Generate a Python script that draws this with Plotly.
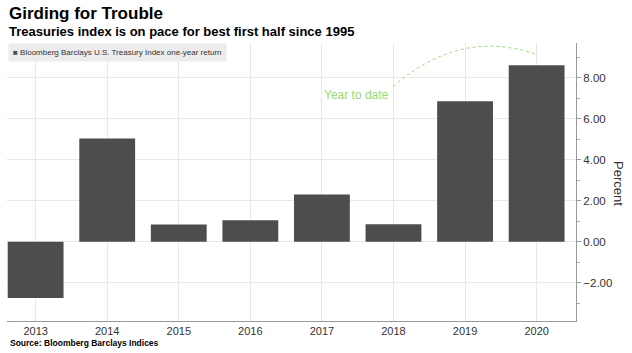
import plotly.graph_objects as go

# ---- data ----
years = ["2013", "2014", "2015", "2016", "2017", "2018", "2019", "2020"]
returns = [-2.75, 5.04, 0.84, 1.05, 2.31, 0.85, 6.86, 8.61]
series_name = "Bloomberg Barclays U.S. Treasury Index one-year return"
y_ticks = [-2, 0, 2, 4, 6, 8]
title = "Girding for Trouble"
subtitle = "Treasuries index is on pace for best first half since 1995"
source = "Source: Bloomberg Barclays Indices"
ytd_label = "Year to date"
y_title = "Percent"

# ---- layout geometry ----
WIDTH, HEIGHT = 632, 353
L, R, T, B = 7, 56, 43, 32
PW = WIDTH - L - R
PH = HEIGHT - T - B


def px(x):
    return (x - L) / PW


def py(y):
    return (HEIGHT - B - y) / PH


SANS = "Liberation Sans, Arial, sans-serif"
GREEN = "#9ad96e"
BAR = "#4d4d4d"

fig = go.Figure()
fig.add_trace(go.Bar(
    x=years, y=returns, name=series_name,
    marker=dict(color=BAR, line=dict(width=0)),
    width=0.78, showlegend=False,
))

fig.update_layout(
    width=WIDTH, height=HEIGHT,
    margin=dict(l=L, r=R, t=T, b=B, pad=0),
    paper_bgcolor="white", plot_bgcolor="white",
    xaxis=dict(
        type="category", range=[-0.4, 7.55],
        showgrid=True, gridcolor="#e8e8e8", gridwidth=1,
        showline=True, linecolor="#999999", linewidth=1,
        ticks="", ticklen=0,
        tickfont=dict(family=SANS, size=11, color="#333333"),
        fixedrange=True,
    ),
    yaxis=dict(
        side="right", range=[-3.87, 9.7],
        tickvals=y_ticks, tickformat=".2f",
        showgrid=True, gridcolor="#e8e8e8", gridwidth=1,
        zeroline=False,
        showline=True, linecolor="#999999", linewidth=1,
        ticks="outside", ticklen=4, tickcolor="#999999",
        minor=dict(dtick=1, ticks="outside", ticklen=3, tickcolor="#aaaaaa", showgrid=False),
        tickfont=dict(family=SANS, size=11.5, color="#333333"),
        fixedrange=True,
    ),
    annotations=[
        dict(text="<b>" + title + "</b>", xref="paper", yref="paper",
             x=px(7), y=py(13), xanchor="left", yanchor="middle",
             showarrow=False, font=dict(family=SANS, size=17, color="#000000")),
        dict(text="<b>" + subtitle + "</b>", xref="paper", yref="paper",
             x=px(7), y=py(31.5), xanchor="left", yanchor="middle",
             showarrow=False, font=dict(family=SANS, size=13, color="#000000")),
        dict(text="<b>" + source + "</b>", xref="paper", yref="paper",
             x=px(8), y=py(342.5), xanchor="left", yanchor="middle",
             showarrow=False, font=dict(family=SANS, size=8.5, color="#000000")),
        dict(text="<span style='color:%s'>■</span> %s" % (BAR, series_name),
             xref="paper", yref="paper", x=px(8), y=py(43),
             xanchor="left", yanchor="top", align="left",
             borderpad=4, bgcolor="#ececec",
             showarrow=False, font=dict(family=SANS, size=8, color="#333333")),
        dict(text=y_title, xref="paper", yref="paper",
             x=px(619), y=py(183), xanchor="center", yanchor="middle",
             textangle=90, showarrow=False,
             font=dict(family=SANS, size=13, color="#333333")),
        dict(text=ytd_label, xref="paper", yref="paper",
             x=px(322), y=py(95), xanchor="left", yanchor="middle",
             showarrow=False, font=dict(family=SANS, size=12, color=GREEN)),
    ],
    shapes=[
        dict(type="path", xref="paper", yref="paper",
             path="M %f,%f Q %f,%f %f,%f" % (px(393), py(86.7), px(460), py(28), px(536), py(54.3)),
             line=dict(color=GREEN, width=1, dash="dot")),
    ],
)

fig.write_html("out.html")
